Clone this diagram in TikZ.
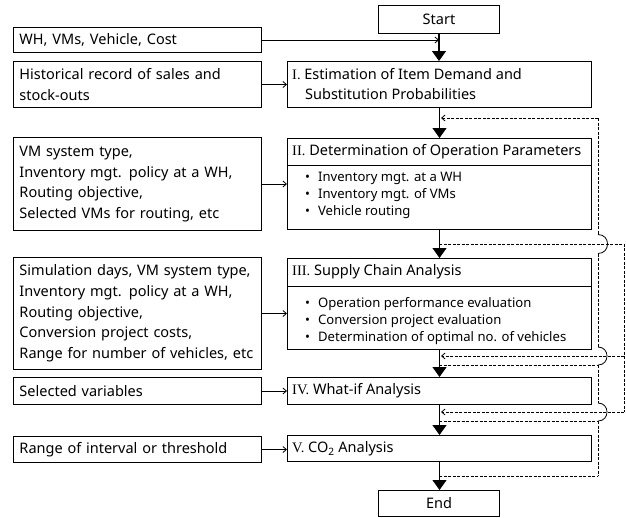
\documentclass[tikz,border=0pt]{standalone}
\usepackage{fontspec}
\setmainfont{Noto Sans}
\newfontfamily\numfont{Liberation Serif}
\usetikzlibrary{arrows.meta}
\begin{document}
\begin{tikzpicture}[x=1pt,y=-1pt,
  box/.style={draw, line width=1pt, rectangle, inner sep=0pt},
  intext/.style={box, anchor=north west, text width=236pt, inner xsep=6pt, align=left,
    font=\fontsize{14.5}{20.7}\selectfont},
  stagebox/.style={box, anchor=north west, minimum width=304pt},
  termbox/.style={box, anchor=north west, minimum width=121pt, font=\fontsize{14.5}{17}\selectfont},
  headtext/.style={anchor=west, inner sep=0pt, align=left, font=\fontsize{14.5}{20}\selectfont},
  bullettext/.style={anchor=north west, inner sep=0pt, align=left, font=\fontsize{13.1}{17}\selectfont},
  mainarrow/.style={line width=1.2pt, -{Triangle[width=14pt,length=10pt]}},
  inarrow/.style={line width=0.8pt, -{Straight Barb[length=3.5pt,width=6pt]}},
  dashline/.style={line width=0.8pt, dash pattern=on 3pt off 1.5pt},
  dasharrow/.style={dashline, -{Straight Barb[length=3.5pt,width=6pt]}},
  bump/.style={line width=0.8pt}
]
\useasboundingbox (0,0) rectangle (626,517);

% terminals
\node[termbox, minimum height=28pt] (start) at (378,5) {Start};
\node[termbox, minimum height=26pt] (end) at (378,490) {End};

% stage boxes
\node[stagebox, minimum height=46pt] (s1) at (287,61) {};
\node[headtext] (s1t) at (292,84) {{\numfont I.} Estimation of Item Demand and\\\hspace*{13pt}Substitution Probabilities};

\node[stagebox, minimum height=91pt] (s2) at (287,138) {};
\node[headtext] (s2t) at (292,151.5) {{\numfont II.} Determination of Operation Parameters};
\node[bullettext] (s2b) at (305,172) {\textbullet\hspace{8pt}Inventory mgt. at a WH\\\textbullet\hspace{8pt}Inventory mgt. of VMs\\\textbullet\hspace{8pt}Vehicle routing};
\draw[line width=1pt] (s2.west |- 0,165) -- (s2.east |- 0,165);

\node[stagebox, minimum height=91pt] (s3) at (287,258) {};
\node[headtext] (s3t) at (292,272) {{\numfont III.} Supply Chain Analysis};
\node[bullettext] (s3b) at (305,297.5) {\textbullet\hspace{8pt}Operation performance evaluation\\\textbullet\hspace{8pt}Conversion project evaluation\\\textbullet\hspace{8pt}Determination of optimal no. of vehicles};
\draw[line width=1pt] (s3.west |- 0,286) -- (s3.east |- 0,286);

\node[stagebox, minimum height=27pt] (s4) at (287,377) {};
\node[headtext] (s4t) at (292,391) {{\numfont IV.} What-if Analysis};

\node[stagebox, minimum height=26pt] (s5) at (287,435) {};
\node[headtext] (s5t) at (292,449) {{\numfont V.} CO\textsubscript{2} Analysis};

% input boxes
\node[intext, minimum height=25pt] (in0) at (13,27) {WH, VMs, Vehicle, Cost};
\node[intext, minimum height=46pt] (in1) at (13,61) {Historical record of sales and\\stock-outs};
\node[intext, minimum height=93pt] (in2) at (13,137) {VM system type,\\Inventory mgt. policy at a WH,\\Routing objective,\\Selected VMs for routing, etc};
\node[intext, minimum height=112pt] (in3) at (13,257) {Simulation days, VM system type,\\Inventory mgt. policy at a WH,\\Routing objective,\\Conversion project costs,\\Range for number of vehicles, etc};
\node[intext, minimum height=27pt] (in4) at (13,377) {Selected variables};
\node[intext, minimum height=26pt] (in5) at (13,436) {Range of interval or threshold};

% main flow
\draw[mainarrow] (start.south) -- (start.south |- s1.north);
\draw[mainarrow] (s1.south) -- (s2.north);
\draw[mainarrow] (s2.south) -- (s3.north);
\draw[mainarrow] (s3.south) -- (s4.north);
\draw[mainarrow] (s4.south) -- (s5.north);
\draw[mainarrow] (s5.south) -- (s5.south |- end.north);

% input arrows
\draw[inarrow] (in0.east) -- (in0.east -| start.south);
\draw[inarrow] (in1.east) -- (in1.east -| s1.west);
\draw[inarrow] (in2.east) -- (in2.east -| s2.west);
\draw[inarrow] (in3.east) -- (in3.east -| s3.west);
\draw[inarrow] (in4.east) -- (in4.east -| s4.west);
\draw[inarrow] (in5.east) -- (in5.east -| s5.west);

% feedback / skip coordinates
\coordinate (mA) at (441,118);  \coordinate (iA) at (598,118);
\coordinate (mB) at (439,244);  \coordinate (oB) at (624,244);
\coordinate (mC) at (441,356);  \coordinate (oC) at (624,356);
\coordinate (mD) at (439,365);  \coordinate (iD) at (598,365);
\coordinate (mE) at (441,412);  \coordinate (oE) at (624,412);
\coordinate (mF) at (439,421);  \coordinate (iF) at (598,421);
\coordinate (mG) at (439,476);  \coordinate (iG) at (598,476);

% inner feedback line with hops
\draw[dasharrow] (iA) -- (mA);
\draw[dashline] (iA) -- (598,234.5);
\draw[bump] (598,234.5) .. controls (610.7,234.5) and (610.7,253.5) .. (598,253.5);
\draw[dashline] (598,253.5) -- (598,347);
\draw[bump] (598,347) .. controls (610,347) and (610,365) .. (iD);
\draw[dashline] (iD) -- (598,403);
\draw[bump] (598,403) .. controls (610,403) and (610,421) .. (iF);
\draw[dashline] (iF) -- (iG);
\draw[dashline] (mD) -- (iD);
\draw[dashline] (mF) -- (iF);
\draw[dashline] (mG) -- (iG);

% outer skip line
\draw[dashline] (mB) -- (oB) -- (oE);
\draw[dasharrow] (oC) -- (mC);
\draw[dasharrow] (oE) -- (mE);
\end{tikzpicture}
\end{document}
